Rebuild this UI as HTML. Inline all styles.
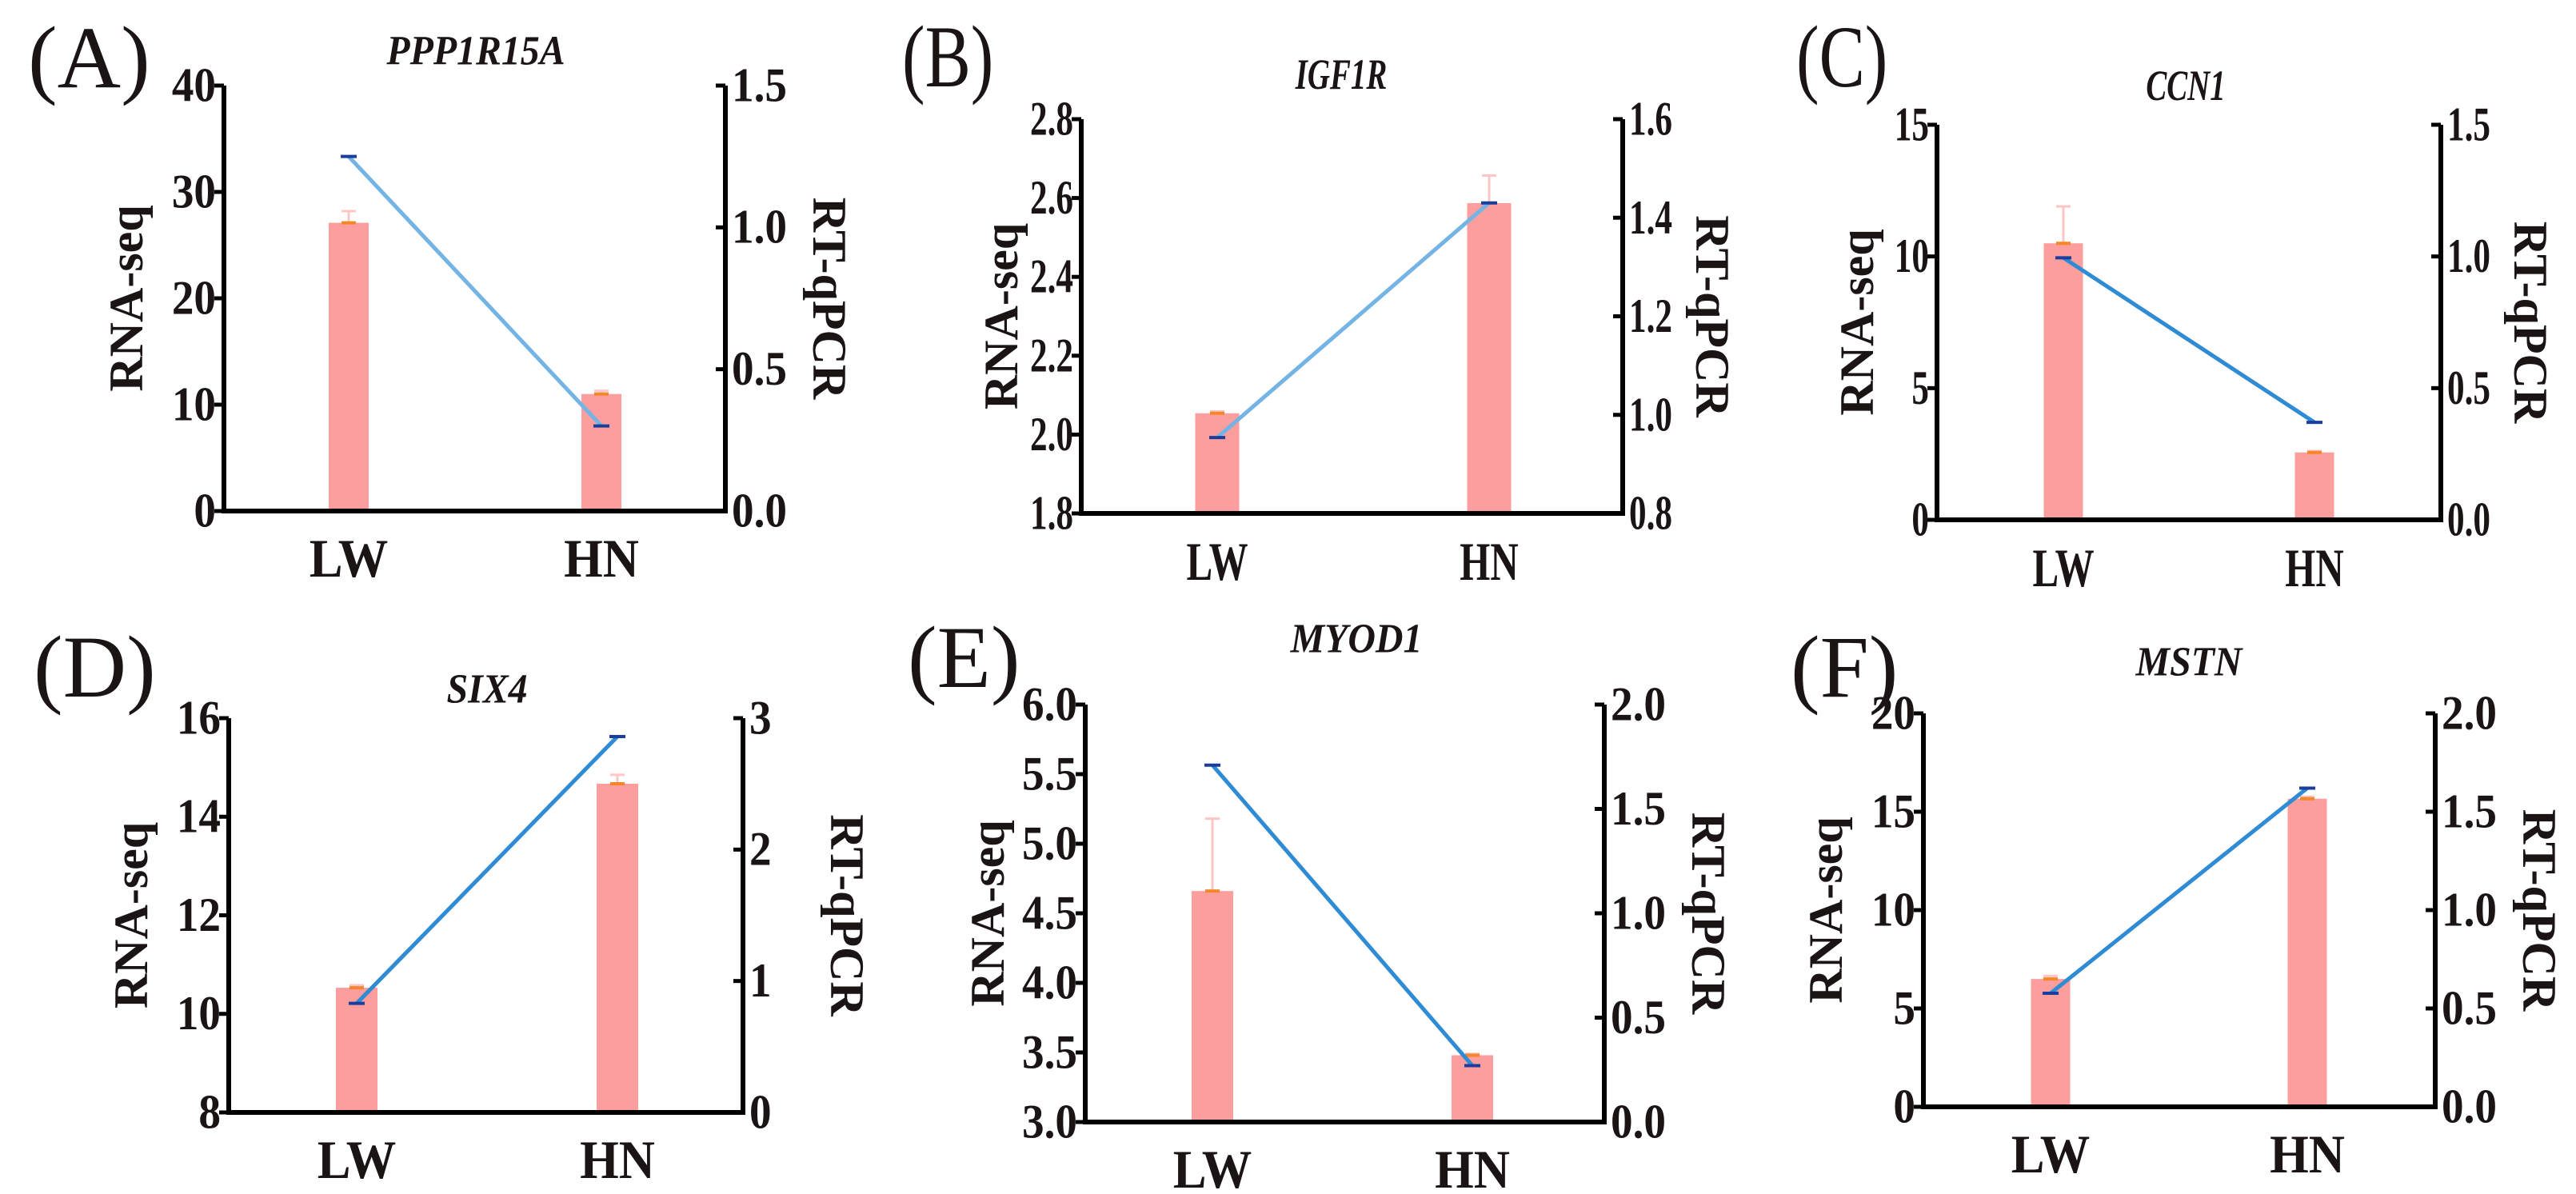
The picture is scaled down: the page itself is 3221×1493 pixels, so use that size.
<!DOCTYPE html>
<html><head><meta charset="utf-8"><style>
html,body{margin:0;padding:0;background:#fff;}
svg{display:block;}
text{font-family:"Liberation Serif","Times New Roman",serif;}
</style></head><body>
<svg id="fig" width="3221" height="1493" viewBox="0 0 3221 1493" xmlns="http://www.w3.org/2000/svg"></svg>
<script>
const categories = ['LW', 'HN'];
const rnaA = [27.1, 11.0], rnaErrA = [1.1, 0.3], qpcrA = [1.25, 0.30];
const rnaB = [2.054, 2.587], rnaErrB = [0.005, 0.07], qpcrB = [0.954, 1.43];
const rnaC = [10.5, 2.56], rnaErrC = [1.4, 0.05], qpcrC = [0.995, 0.37];
const rnaD = [10.53, 14.67], rnaErrD = [0.05, 0.18], qpcrD = [0.83, 2.86];
const rnaE = [4.66, 3.48], rnaErrE = [0.52, 0.01], qpcrE = [1.71, 0.27];
const rnaF = [6.5, 15.66], rnaErrF = [0.15, 0.1], qpcrF = [0.577, 1.62];
const leftTicksA = ['0','10','20','30','40'], rightTicksA = ['0.0','0.5','1.0','1.5'];
const leftTicksB = ['1.8','2.0','2.2','2.4','2.6','2.8'], rightTicksB = ['0.8','1.0','1.2','1.4','1.6'];
const leftTicksC = ['0','5','10','15'], rightTicksC = ['0.0','0.5','1.0','1.5'];
const leftTicksD = ['8','10','12','14','16'], rightTicksD = ['0','1','2','3'];
const leftTicksE = ['3.0','3.5','4.0','4.5','5.0','5.5','6.0'], rightTicksE = ['0.0','0.5','1.0','1.5','2.0'];
const leftTicksF = ['0','5','10','15','20'], rightTicksF = ['0.0','0.5','1.0','1.5','2.0'];
const genes = ['PPP1R15A','IGF1R','CCN1','SIX4','MYOD1','MSTN'];
const letters = ['(A)','(B)','(C)','(D)','(E)','(F)'];

const panels = [
 {rna:rnaA, err:rnaErrA, q:qpcrA, lt:leftTicksA, rt:rightTicksA, L:280, R:907, T:107, B:639, xs:[436,752], bw:50, sx:0.92, fs:60, title:[595,63,52], let:[35,72], line:'#74b4e4'},
 {rna:rnaB, err:rnaErrB, q:qpcrB, lt:leftTicksB, rt:rightTicksB, L:1352, R:2029, T:149, B:642, xs:[1522,1862], bw:55, sx:0.72, fs:60, title:[1677,94,54], let:[1128,72], line:'#74b4e4'},
 {rna:rnaC, err:rnaErrC, q:qpcrC, lt:leftTicksC, rt:rightTicksC, L:2422, R:3052, T:156, B:650, xs:[2580,2894], bw:49, sx:0.72, fs:60, title:[2733,108,54], let:[2246,72], line:'#2f8bd3'},
 {rna:rnaD, err:rnaErrD, q:qpcrD, lt:leftTicksD, rt:rightTicksD, L:286, R:929, T:898, B:1391, xs:[446,772], bw:52, sx:0.92, fs:60, title:[609,861,52], let:[42,834], line:'#2f8bd3'},
 {rna:rnaE, err:rnaErrE, q:qpcrE, lt:leftTicksE, rt:rightTicksE, L:1357, R:2006, T:881, B:1403, xs:[1516,1841], bw:52, sx:0.92, fs:60, title:[1696,798,52], let:[1135,822], line:'#2f8bd3'},
 {rna:rnaF, err:rnaErrF, q:qpcrF, lt:leftTicksF, rt:rightTicksF, L:2405, R:3045, T:892, B:1384, xs:[2564,2885], bw:49, sx:0.92, fs:60, title:[2737,827,52], let:[2239,834], line:'#2f8bd3'}
];
const NS = 'http://www.w3.org/2000/svg';
const svg = document.getElementById('fig');
function mk(tag, attrs, parent) {
  const e = document.createElementNS(NS, tag);
  for (const k in attrs) e.setAttribute(k, attrs[k]);
  (parent || svg).appendChild(e);
  return e;
}
function txt(str, x, y, sx, fs, anchor, weight, style, parent, rot) {
  const t = mk('text', {x:0, y:0, 'font-size':fs, 'text-anchor':anchor, 'font-weight':weight, 'font-style':style, fill:'#1a1414', 'dominant-baseline':'central',
    'font-family':'Liberation Serif, serif',
    transform:`translate(${x},${y}) ${rot ? 'rotate(' + rot + ')' : ''} scale(${sx},1)`}, parent);
  t.textContent = str;
  return t;
}
panels.forEach((p, i) => {
  const g = mk('g', {});
  
  
  const lmin = parseFloat(p.lt[0]), lmax = parseFloat(p.lt[p.lt.length-1]);
  const rmin = parseFloat(p.rt[0]), rmax = parseFloat(p.rt[p.rt.length-1]);
  const yL = v => p.B - (v - lmin) / (lmax - lmin) * (p.B - p.T);
  const yR = v => p.B - (v - rmin) / (rmax - rmin) * (p.B - p.T);
  p.rna.forEach((v, j) => {
    const x = p.xs[j];
    const b = mk('rect', {x:x - p.bw/2, y:yL(v), width:p.bw, height:p.B - yL(v), fill:'#fd9e9e'}, g);
    
    
    const et = yL(v + p.err[j]);
    const eb = mk('path', {d:`M${x},${yL(v)}V${et}M${x-9},${et}H${x+9}`, stroke:'#ffc4c4', 'stroke-width':3, fill:'none'}, g);
    
    
    mk('line', {x1:x-9, x2:x+9, y1:yL(v), y2:yL(v), stroke:'#f5862a', 'stroke-width':4}, g);
  });
  const pts = p.q.map((v, j) => p.xs[j] + ',' + yR(v)).join(' ');
  const ln = mk('polyline', {points:pts, fill:'none', stroke:p.line, 'stroke-width':5}, g);
  
  
  p.q.forEach((v, j) => {
    mk('line', {x1:p.xs[j]-10, x2:p.xs[j]+10, y1:yR(v), y2:yR(v), stroke:'#1b3d9c', 'stroke-width':4}, g);
  });
  const ax = mk('path', {d:`M${p.L},${p.T}V${p.B}H${p.R}V${p.T}`, fill:'none', stroke:'#000', 'stroke-width':6}, g);
  
  
  p.lt.forEach(s => {
    const y = yL(parseFloat(s));
    mk('line', {x1:p.L-12, x2:p.L, y1:y, y2:y, stroke:'#000', 'stroke-width':5}, g);
    const t = txt(s, p.L - 10, y, p.sx, p.fs, 'end', 'bold', 'normal', g);
    
    
  });
  p.rt.forEach(s => {
    const y = yR(parseFloat(s));
    mk('line', {x1:p.R-12, x2:p.R, y1:y, y2:y, stroke:'#000', 'stroke-width':5}, g);
    const t = txt(s, p.R + 8, y, p.sx, p.fs, 'start', 'bold', 'normal', g);
    
    
  });
  categories.forEach((c, j) => {
    const t = txt(c, p.xs[j], p.B + 60, p.sx, p.fs + 8, 'middle', 'bold', 'normal', g);
    
    
  });
  const lw = p.sx < 0.8 ? 100 : 122;
  const yt = txt('RNA-seq', p.L - lw, (p.T + p.B) / 2, 1, p.fs, 'middle', 'bold', 'normal', g, -90);
  
  
  const rw = p.sx < 0.8 ? 112 : 130;
  const rtT = txt('RT-qPCR', p.R + rw, (p.T + p.B) / 2, 1, p.fs, 'middle', 'bold', 'normal', g, 90);
  
  
  const ti = txt(genes[i], p.title[0], p.title[1], p.sx, p.title[2], 'middle', 'bold', 'italic', g);
  
  
  const le = txt(letters[i], p.let[0], p.let[1], p.sx < 0.8 ? 0.78 : 1, 110, 'start', 'normal', 'normal', g);
  
  
});
</script>
</body></html>
